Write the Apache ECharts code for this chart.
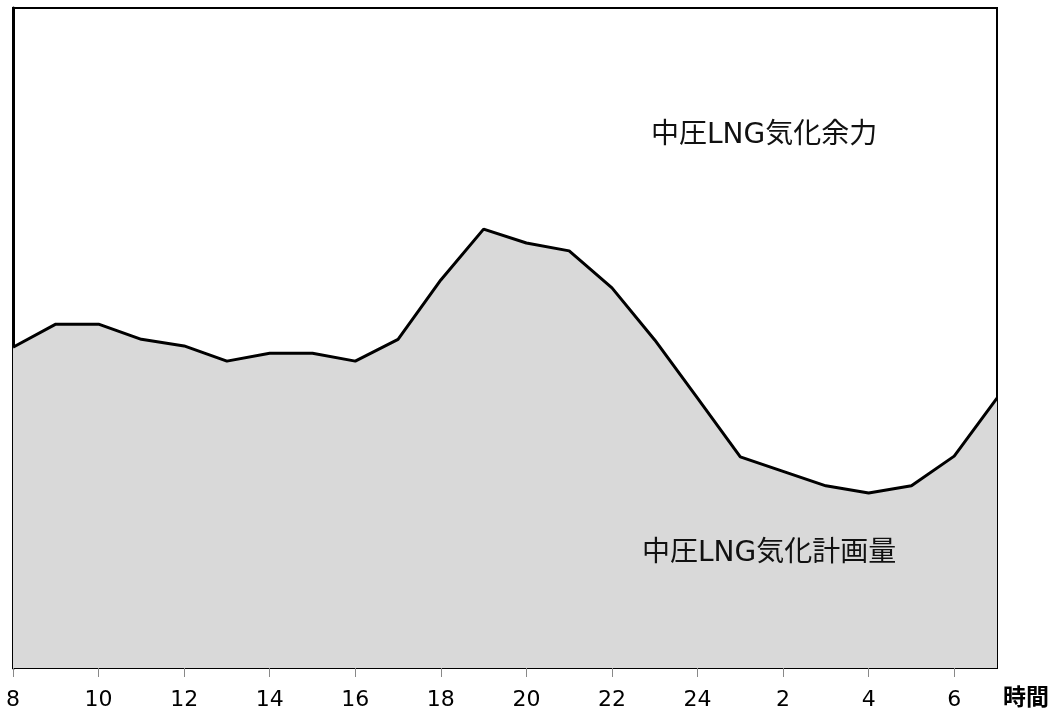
<!DOCTYPE html>
<html>
<head>
<meta charset="utf-8">
<script src="https://cdn.jsdelivr.net/npm/echarts@6/dist/echarts.min.js"></script>
<style>html,body{margin:0;padding:0;background:#fff}#c{width:1052px;height:713px}</style>
</head>
<body>
<div id="c"></div>
<script>
var hours = ['8','9','10','11','12','13','14','15','16','17','18','19','20','21','22','23','24','1','2','3','4','5','6','7'];
var planned = [48.6,52.1,52.1,49.8,48.8,46.5,47.7,47.7,46.5,49.8,58.8,66.5,64.4,63.2,57.6,49.7,40.9,32.0,29.8,27.6,26.5,27.6,32.1,40.9];
var labelUpper = '中圧LNG気化余力';
var labelLower = '中圧LNG気化計画量';
var axisName = '時間';

var chart = echarts.init(document.getElementById('c'));
chart.setOption({
  animation: false,
  grid: {left: 13, right: 55, top: 8, bottom: 45, show: true, borderColor: '#000', borderWidth: 2, backgroundColor: 'transparent'},
  xAxis: {
    type: 'category', data: hours, boundaryGap: false,
    name: axisName, nameLocation: 'end', nameGap: 6,
    nameTextStyle: {fontFamily: 'Noto Sans CJK JP', fontWeight: 'bold', fontSize: 23, color: '#000', verticalAlign: 'top', padding: [17, 0, 0, 0]},
    axisLine: {lineStyle: {color: '#000', width: 2}},
    axisTick: {interval: 1, length: 9, lineStyle: {color: '#888', width: 1}},
    axisLabel: {interval: 1, fontFamily: 'DejaVu Sans', fontSize: 22, color: '#000', margin: 21},
    splitLine: {show: false}
  },
  yAxis: {
    type: 'value', min: 0, max: 100,
    axisLine: {show: true, lineStyle: {color: '#000', width: 3}},
    axisTick: {show: false}, axisLabel: {show: false}, splitLine: {show: false}
  },
  series: [{
    type: 'line', data: planned, symbol: 'none', z: 1,
    lineStyle: {color: '#000', width: 3},
    areaStyle: {color: '#d9d9d9', opacity: 1}
  }],
  graphic: [
    {type: 'text', left: 651, top: 122, z: 10, style: {text: labelUpper, font: '28px "DejaVu Sans", "Noto Sans CJK JP"', fill: '#111'}},
    {type: 'text', left: 642, top: 540, z: 10, style: {text: labelLower, font: '28px "DejaVu Sans", "Noto Sans CJK JP"', fill: '#111'}}
  ]
});
</script>
</body>
</html>
